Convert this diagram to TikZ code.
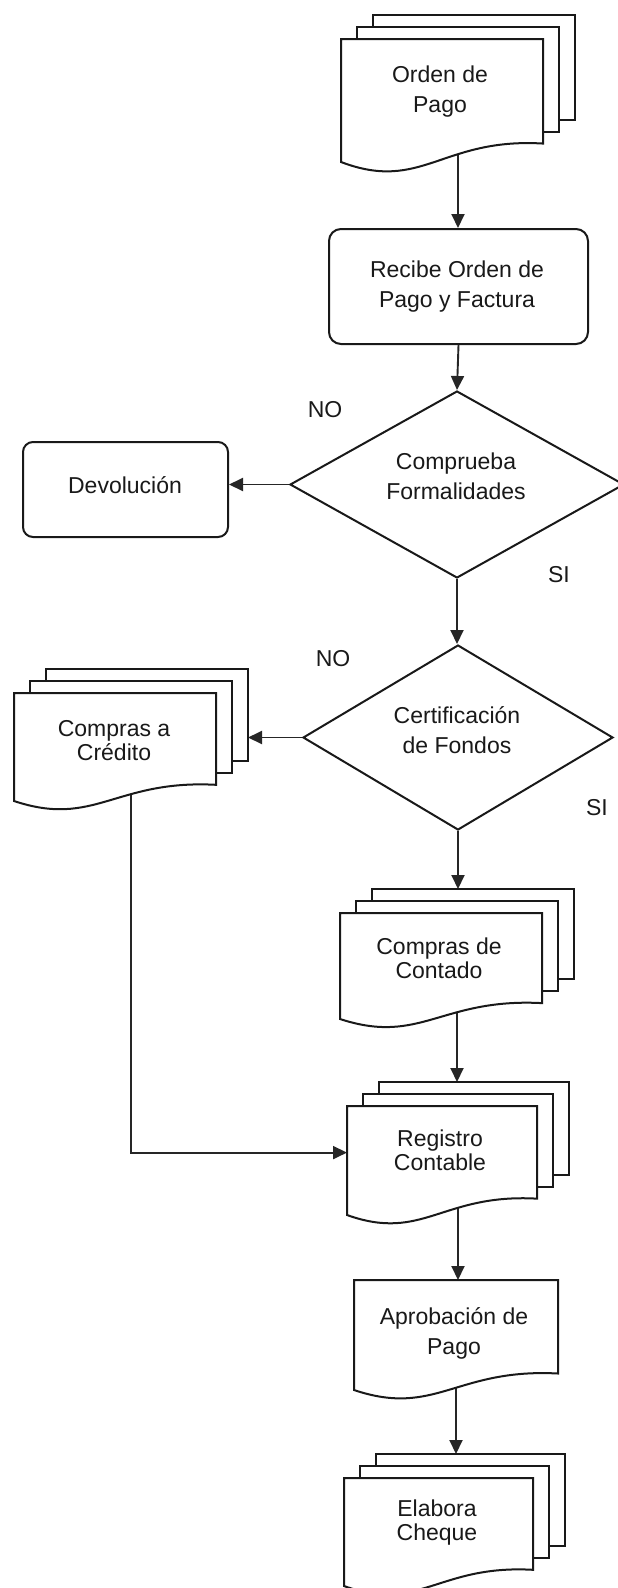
\documentclass[tikz,border=0pt]{standalone}
\usepackage{fontspec}
\setmainfont{Liberation Sans}
\usetikzlibrary{shapes.geometric,arrows.meta,calc}
\pgfdeclarelayer{links}
\pgfsetlayers{links,main}

\tikzset{
  outline/.style={draw=black!90, line width=2pt, fill=white},
  anchorbox/.style={draw=none, inner sep=0pt, outer sep=0pt, anchor=north west},
  roundbox/.style={outline, rounded corners=12pt, inner sep=0pt, anchor=north west},
  decision/.style={outline, diamond, inner sep=0pt},
  caption/.style={font=\fontsize{23}{30}\selectfont, align=center, text=black!90, inner sep=0pt},
  tightcaption/.style={caption, font=\fontsize{23}{24}\selectfont},
  link/.style={draw=black!85, line width=1.9pt, -{Triangle[length=14pt,width=13pt]}},
}

% front sheet of a document symbol: left x, top y, width, height of the left side
\newcommand{\docpage}[4]{%
  \draw[outline] (#1,#2) -- ++(#3,0) -- ++(0,{0.85*#4})
    .. controls ({#1+0.5*#3},{#2+0.8*#4}) and ({#1+0.4*#3},{#2+1.25*#4}) .. (#1,{#2+#4}) -- cycle;
}
% stack of three sheets: name, front left x, front top y, width, height
\newcommand{\docstack}[5]{%
  \draw[outline] ({#2+32},{#3-24}) rectangle ++(#4,{0.85*#5});
  \draw[outline] ({#2+16},{#3-12}) rectangle ++(#4,{0.85*#5});
  \docpage{#2}{#3}{#4}{#5}
  \node[anchorbox, minimum width={(#4+32)*1pt}, minimum height={(24+1.075*#5)*1pt}] (#1) at (#2,{#3-24}) {};
  \node[anchorbox, minimum width={#4*1pt}, minimum height={#5*1pt}] (#1F) at (#2,#3) {};
}

\begin{document}
\begin{tikzpicture}[x=1pt, y=-1pt]
\clip (0,0) rectangle (618,1588);

% documents
\docstack{orden}{341}{39}{202}{123}
\docstack{credito}{14}{693}{202}{108}
\docstack{contado}{340}{913}{202}{106}
\docstack{registro}{347}{1106}{190}{109}
\docpage{354}{1280}{204}{110}
\node[anchorbox, minimum width=204pt, minimum height=110pt] (aprob) at (354,1280) {};
\docstack{elabora}{344}{1478}{189}{108}

% process boxes
\node[roundbox, minimum width=259pt, minimum height=115pt] (recibe) at (328,228) {};
\node[roundbox, rounded corners=10pt, minimum width=205pt, minimum height=95pt] (devol) at (22,441) {};

% decisions
\node[decision, minimum width=334pt, minimum height=187pt] (check) at (457,484.5) {};
\node[decision, minimum width=310pt, minimum height=185pt] (funds) at (458,737.5) {};

% texts
\node[caption] (t-orden) at (440,92) {Orden de\\Pago};
\node[caption] (t-recibe) at (457,287) {Recibe Orden de\\Pago y Factura};
\node[caption] (t-check) at (456,476.5) {Comprueba\\Formalidades};
\node[caption] (t-devol) at (125,485) {Devolución};
\node[caption] (t-funds) at (457,730.5) {Certificación\\de Fondos};
\node[tightcaption] (t-credito) at (114,740.5) {Compras a\\Crédito};
\node[tightcaption] (t-contado) at (439,958.5) {Compras de\\Contado};
\node[tightcaption] (t-registro) at (440,1150) {Registro\\Contable};
\node[caption] (t-aprob) at (454,1333.5) {Aprobación de\\Pago};
\node[tightcaption] (t-elabora) at (437,1522.5) {Elabora\\Cheque};

\node[caption] (no1) at (325,410) {NO};
\node[caption] (si1) at (559,575) {SI};
\node[caption] (no2) at (333,659) {NO};
\node[caption] (si2) at (597,808) {SI};

% connectors
\begin{pgfonlayer}{links}
\draw[link] (orden.center) -- (orden.center |- recibe.north);
\draw[link] (recibe.south) -- (check.north);
\draw[link] (check.west) -- (check.west -| devol.east);
\draw[link] (check.south) -- (check.south |- funds.north);
\draw[link] (funds.west) -- (funds.west -| credito.east);
\draw[link] (funds.south) -- (funds.south |- contado.north);
\draw[link] (contado.center) -- (contado.center |- registro.north);
\draw[link] (credito.center) |- (registroF.west |- registro.center);
\draw[link] (registro.center) -- (registro.center |- aprob.north);
\draw[link] (aprob.center) -- (aprob.center |- elabora.north);
\end{pgfonlayer}
\end{tikzpicture}
\end{document}
